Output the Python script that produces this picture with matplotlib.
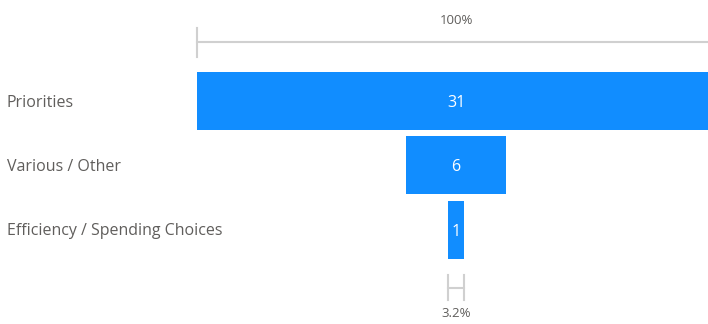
import matplotlib
matplotlib.use("Agg")
import matplotlib.pyplot as plt
import matplotlib.transforms as mtransforms

categories = ["Priorities", "Various / Other", "Efficiency / Spending Choices"]
values = [31, 6, 1]
top_label = "100%"
bottom_label = "3.2%"

W, H = 708, 324
fig = plt.figure(figsize=(W / 100, H / 100), dpi=100)
left_px = 197
right_px = 715
ax = fig.add_axes([left_px / W, 0, (right_px - left_px) / W, 1])
vmax = max(values)
ax.set_xlim(-vmax / 2, vmax / 2)
sp = 64.25
c0 = 101
ax.set_ylim((H - c0) / sp, -c0 / sp)
ax.axis("off")

blue = "#118DFF"
grey_line = "#D0D0D0"
text_col = "#605E5C"
font = "Open Sans"

ypos = list(range(len(values)))
ax.barh(ypos, values, left=[-v / 2 for v in values], height=58 / sp, color=blue)
for y, v in zip(ypos, values):
    ax.text(0, y + 2 / sp, str(v), color="white", ha="center", va="center", fontsize=11.5, family=font)

tr = mtransforms.blended_transform_factory(fig.transFigure, ax.transData)
for y, c in zip(ypos, categories):
    ax.text(7 / W, y + 1.5 / sp, c, transform=tr,
            ha="left", va="center", fontsize=11.5, color=text_col, family=font)

# top scale line
ytop = (42 - c0) / sp
ax.plot([-vmax / 2, vmax / 2], [ytop, ytop], color=grey_line, lw=1.5, clip_on=False)
ax.plot([-vmax / 2, -vmax / 2], [(28 - c0) / sp, (57 - c0) / sp], color=grey_line, lw=1.5, clip_on=False)
ax.text(0, (21 - c0) / sp, top_label, ha="center", va="center", fontsize=9.5, color=text_col, family=font)

# bottom H marker for last value
vl = values[-1]
yb = (287.5 - c0) / sp
hh = 12.5 / sp
ax.plot([-vl / 2, vl / 2], [yb, yb], color=grey_line, lw=1.5, clip_on=False)
for xx in (-vl / 2, vl / 2):
    ax.plot([xx, xx], [yb - hh, yb + hh], color=grey_line, lw=1.5, clip_on=False)
ax.text(0, (313.5 - c0) / sp, bottom_label, ha="center", va="center", fontsize=9.5, color=text_col, family=font)

fig.savefig("out.png", dpi=100, facecolor="white")
